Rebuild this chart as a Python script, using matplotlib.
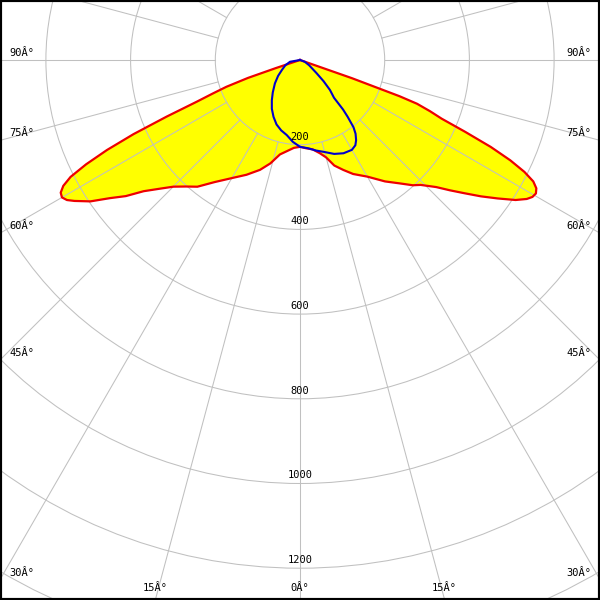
import matplotlib
matplotlib.use("Agg")
import matplotlib.pyplot as plt
from matplotlib.patches import Circle
import numpy as np

#====================DATA====================

# angles in degrees from nadir, negative = left half of the diagram
red_angle = [-90, -72, -71.5, -71, -70, -69, -68, -67, -66, -65, -64, -63, -62, -61, -60,
             -59, -58, -57, -56, -54, -52, -50, -47.5, -45, -42, -39, -35, -30, -25, -20,
             -16, -12, -8, -4, 0, 4, 8, 12, 15, 18, 21.5, 25, 30, 35, 39, 42, 44, 47, 49,
             51, 53, 55, 57, 58.5, 59.5, 60.5, 61.5, 62.5, 63.5, 64.5, 65.5, 66.5, 67.5,
             68.5, 69.5, 70, 70.7, 72, 90]
red_cd = [0, 0, 60, 130, 185, 220, 263, 342, 430, 503, 562, 608, 633, 646, 649,
          642, 628, 612, 597, 555, 522, 482, 450, 423, 402, 385, 352, 322, 299, 276,
          254, 228, 217, 208, 205, 209, 213, 225, 238, 262, 279, 297, 318, 350, 375,
          398, 410, 440, 469, 500, 535, 570, 607, 628, 637, 640, 635, 621, 592, 550,
          495, 425, 362, 330, 295, 250, 130, 0, 0]

blue_angle = [-90, -80, -70, -61, -54, -47, -40, -35, -30, -25, -20, -15, -10, -5, 0,
              5, 10, 15, 20, 25, 30, 33, 35, 37, 38.5, 40, 41, 42, 45, 48, 51.5, 60, 70, 90]
blue_cd = [0, 24, 37, 49, 64, 81, 100, 116, 133, 148, 162, 172, 180, 194, 205,
           209, 217, 225, 236, 243, 245, 240, 231, 218, 203, 175, 155, 120, 100, 75, 50,
           25, 12, 0]

ring_values = [200, 400, 600, 800, 1000, 1200, 1400]
ring_labels = ["200", "400", "600", "800", "1000", "1200"]
side_angles = [90, 75, 60, 45, 30]
bottom_angles = [-15, 0, 15]
angle_text = "{}Â°"

#====================LAYOUT====================

px_per_cd = 84.7 / 200
x_half = 300 / px_per_cd
y_top = 60 / px_per_cd
y_bottom = -540 / px_per_cd

grid_color = "#c0c0c0"
font = dict(family="DejaVu Sans Mono", size=7.5, color="black")


def to_xy(angle, cd):
    a = np.radians(np.array(angle, dtype=float))
    r = np.array(cd, dtype=float)
    return r * np.sin(a), -r * np.cos(a)


fig = plt.figure(figsize=(6, 6), dpi=100)
ax = fig.add_axes([0, 0, 1, 1])
ax.set_xlim(-x_half, x_half)
ax.set_ylim(y_bottom, y_top)
ax.set_aspect("equal")
ax.set_xticks([])
ax.set_yticks([])
for s in ax.spines.values():
    s.set_linewidth(3)
    s.set_color("black")

#====================CURVES====================

rx, ry = to_xy(red_angle, red_cd)
bx, by = to_xy(blue_angle, blue_cd)

ax.fill(rx, ry, color="#ffff00", zorder=1, lw=0)

for r in ring_values:
    ax.add_patch(Circle((0, 0), r, fill=False, ec=grid_color, lw=0.75, zorder=2))

for a in range(0, 360, 15):
    t = np.radians(a)
    ax.plot([200 * np.sin(t), 2000 * np.sin(t)], [-200 * np.cos(t), -2000 * np.cos(t)],
            color=grid_color, lw=0.75, zorder=2)

ax.plot(rx, ry, color="#ee0000", lw=1.6, zorder=3, solid_joinstyle="round")
ax.plot(bx, by, color="#0000cc", lw=1.5, zorder=4, solid_joinstyle="round")

#====================LABELS====================

for v, lab in zip(ring_values, ring_labels):
    ax.text(0, -v + 8 / px_per_cd, lab, ha="center", va="center", zorder=5, **font)

for a in side_angles:
    y_int = -x_half * np.cos(np.radians(a)) / np.sin(np.radians(a))
    y_lab = y_int + 7 / px_per_cd
    ax.text(-x_half + 9 / px_per_cd, y_lab, angle_text.format(a), ha="left", va="center", zorder=5, **font)
    ax.text(x_half - 9 / px_per_cd, y_lab, angle_text.format(a), ha="right", va="center", zorder=5, **font)

for a in bottom_angles:
    x_int = -y_bottom * np.tan(np.radians(a))
    ax.text(x_int, y_bottom + 12 / px_per_cd, angle_text.format(abs(a)), ha="center", va="center",
            zorder=5, **font)

plt.savefig("out.png", dpi=100)
